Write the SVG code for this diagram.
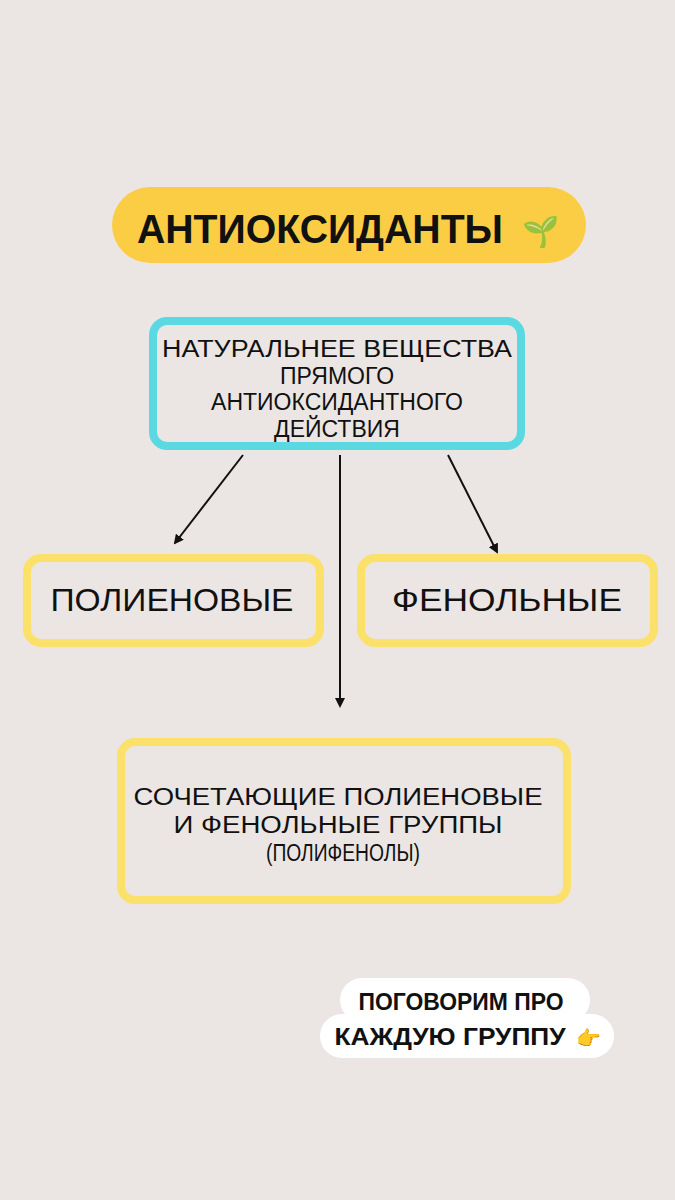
<svg xmlns="http://www.w3.org/2000/svg" width="675" height="1200" viewBox="0 0 675 1200">
<defs>
<style>
text{font-family:"Liberation Sans","Open Sans",sans-serif;fill:#111;text-anchor:middle}
.y{fill:none;stroke:#fbe06a;stroke-width:8}
.c{stroke:#111;stroke-width:2;fill:none;marker-end:url(#a)}
</style>
<marker id="a" viewBox="0 0 10 10" refX="8" refY="5" markerWidth="5" markerHeight="5" orient="auto"><path d="M0,0L10,5L0,10z" fill="#111"/></marker>
</defs>
<rect width="675" height="1200" fill="#ebe6e4"/>
<g id="title"><rect x="112" y="187" width="474" height="76" rx="38" fill="#fbcd45"/>
<text x="320" y="243" font-size="40" font-weight="bold" textLength="366" lengthAdjust="spacingAndGlyphs">АНТИОКСИДАНТЫ</text><text x="540" y="242" font-size="30">🌱</text></g>
<g id="main"><rect x="153" y="321" width="368" height="125" rx="14" fill="none" stroke="#5ad9e3" stroke-width="8"/>
<text font-size="23"><tspan x="337" y="357" textLength="350" lengthAdjust="spacingAndGlyphs">НАТУРАЛЬНЕЕ ВЕЩЕСТВА</tspan><tspan x="337" y="384">ПРЯМОГО</tspan><tspan x="337" y="410">АНТИОКСИДАНТНОГО</tspan><tspan x="337" y="437">ДЕЙСТВИЯ</tspan></text></g>
<g id="connectors"><path class="c" d="M243,455L175,543"/><path class="c" d="M340,455V706"/><path class="c" d="M448,455L497,552"/></g>
<g id="poly"><rect class="y" x="27" y="558" width="293" height="85" rx="14"/><text x="172" y="611" font-size="31" textLength="243" lengthAdjust="spacingAndGlyphs">ПОЛИЕНОВЫЕ</text></g>
<g id="phen"><rect class="y" x="361" y="558" width="293" height="85" rx="14"/><text x="507" y="611" font-size="31" textLength="230" lengthAdjust="spacingAndGlyphs">ФЕНОЛЬНЫЕ</text></g>
<g id="both"><rect class="y" x="121" y="742" width="446" height="158" rx="14"/>
<text font-size="23"><tspan x="338" y="805" textLength="409" lengthAdjust="spacingAndGlyphs">СОЧЕТАЮЩИЕ ПОЛИЕНОВЫЕ</tspan><tspan x="338" y="833" textLength="329" lengthAdjust="spacingAndGlyphs">И ФЕНОЛЬНЫЕ ГРУППЫ</tspan><tspan x="343" y="861" textLength="154" lengthAdjust="spacingAndGlyphs">(ПОЛИФЕНОЛЫ)</tspan></text></g>
<g id="note"><rect x="340" y="978" width="250" height="44" rx="22" fill="#fff"/><rect x="320" y="1014" width="294" height="44" rx="22" fill="#fff"/>
<text font-size="23" font-weight="bold"><tspan x="461" y="1010" textLength="205" lengthAdjust="spacingAndGlyphs">ПОГОВОРИМ ПРО</tspan><tspan x="450" y="1045" textLength="231" lengthAdjust="spacingAndGlyphs">КАЖДУЮ ГРУППУ</tspan></text><text x="588" y="1045" font-size="20">👉</text></g>
</svg>
